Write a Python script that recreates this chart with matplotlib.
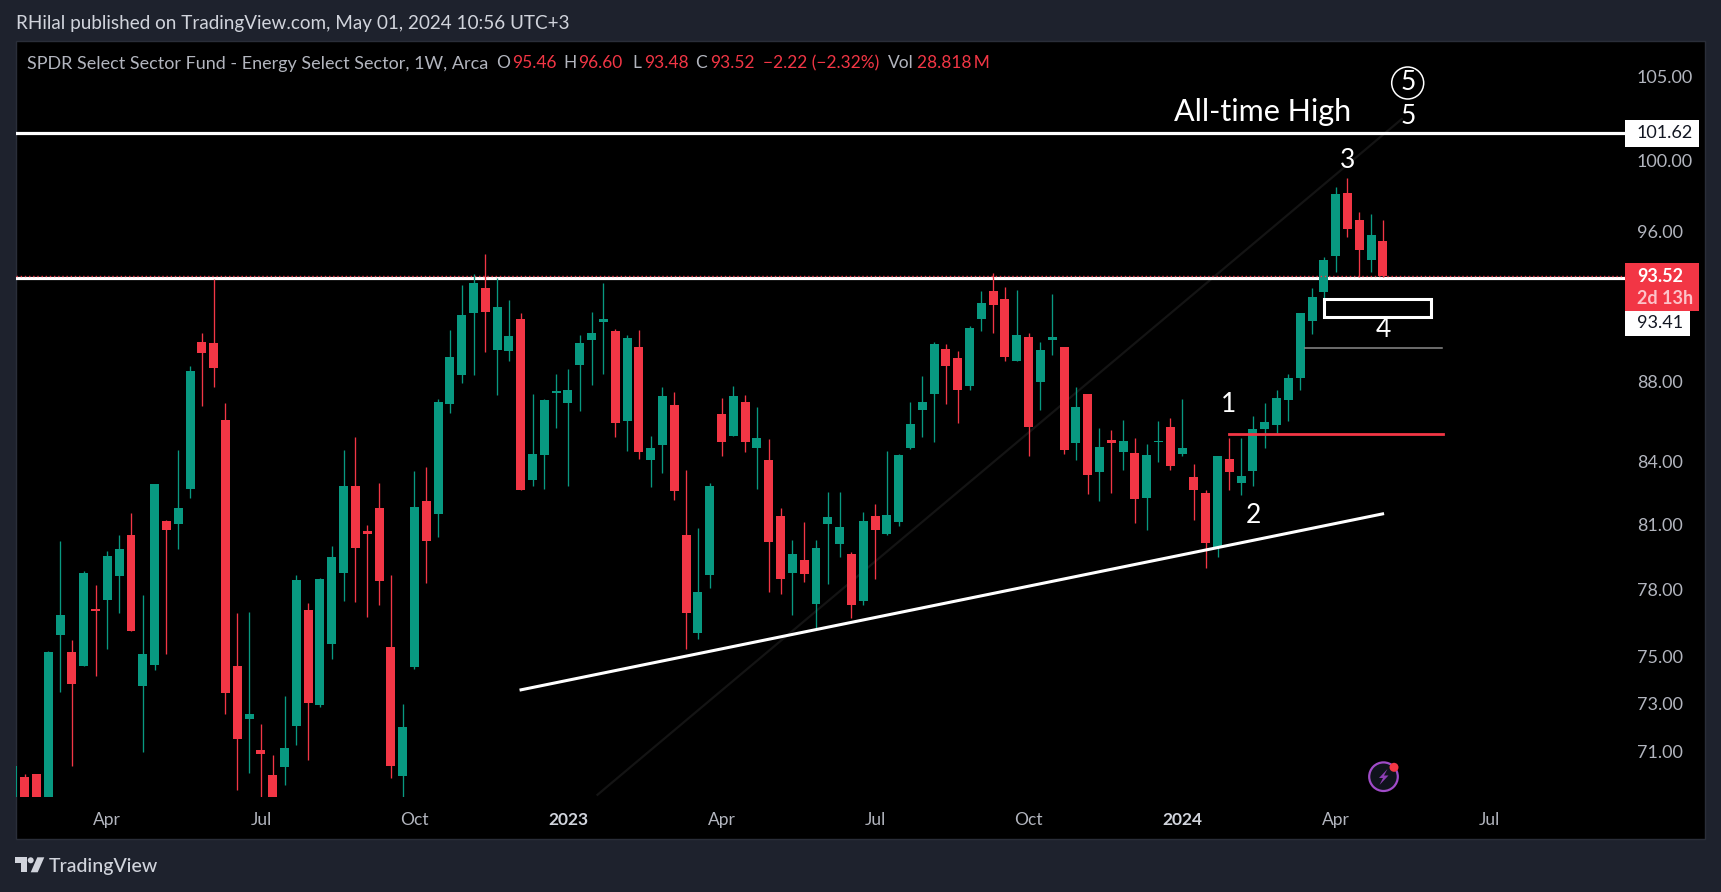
import numpy as np
import matplotlib
matplotlib.use("Agg")
import matplotlib.pyplot as plt
from matplotlib.patches import Rectangle, Polygon, Ellipse
from matplotlib.ticker import NullFormatter, NullLocator

W, H = 1721, 892

# weekly candles, first one is only half visible at the left edge
opens = [69.0, 69.96, 70.08, 69.0, 75.96, 75.22, 74.61, 77.13, 77.53, 78.62,
         80.49, 73.75, 74.66, 81.16, 81.02, 82.68, 90.03, 89.99, 86.04, 74.61,
         72.36, 71.06, 70.05, 70.37, 72.06, 77.08, 72.95, 75.57, 78.75, 82.82,
         80.69, 81.77, 75.44, 70.00, 74.58, 82.10, 81.49, 86.86, 88.33, 91.56,
         92.89, 89.62, 89.56, 91.23, 83.11, 84.32,
         87.41, 86.90, 88.84, 90.13, 91.08, 90.61, 86.01, 89.77, 84.08, 84.82,
         86.80, 80.50, 76.05, 78.65, 86.35, 85.26, 86.96, 84.67, 84.08, 81.39,
         78.75, 79.34, 77.34, 81.01, 80.08, 79.62, 77.45, 81.39, 80.54, 81.11,
         84.67, 86.55, 87.37, 89.66, 89.20, 87.77, 91.24, 92.73, 92.30, 89.05,
         90.29, 87.97, 90.13, 89.77, 84.91, 87.36, 83.50, 85.06, 84.47, 84.42,
         82.25, 84.96, 85.70, 84.37, 83.26, 82.49, 79.94, 84.13, 82.97, 83.55,
         85.60, 85.80, 87.06, 88.17, 91.13, 92.68, 94.63, 98.15, 96.63, 94.41,
         95.46]
highs = [70.41, 70.07, 70.08, 75.28, 80.22, 75.75, 78.84, 78.20, 79.76, 80.49,
         81.54, 77.75, 82.91, 81.21, 84.56, 88.78, 90.51, 93.38, 86.90, 76.95,
         76.98, 72.16, 70.86, 73.33, 78.65, 77.40, 78.53, 79.99, 84.56, 85.20,
         80.98, 82.97, 78.65, 73.00, 83.54, 83.73, 87.10, 90.67, 93.04, 93.64,
         94.74, 93.42, 92.25, 91.56, 87.36, 87.10,
         88.38, 88.62, 90.39, 91.61, 93.16, 90.71, 90.39, 90.66, 85.26, 87.72,
         87.46, 83.59, 80.82, 82.97, 87.16, 87.77, 87.31, 86.70, 85.11, 81.77,
         80.26, 81.11, 80.26, 82.53, 82.53, 79.71, 81.58, 81.96, 84.52, 84.37,
         86.96, 88.27, 90.03, 89.92, 89.56, 90.87, 92.73, 93.70, 92.95, 92.79,
         90.50, 90.03, 92.57, 89.77, 87.72, 87.36, 85.66, 85.56, 86.06, 85.16,
         84.86, 85.99, 86.14, 87.11, 83.88, 82.63, 84.27, 85.15, 85.15, 86.24,
         86.89, 87.56, 88.38, 91.56, 92.89, 94.58, 98.49, 99.01, 97.07, 96.96,
         96.60]
lows = [69.0, 68.9, 68.9, 68.9, 73.50, 70.41, 74.61, 74.18, 75.34, 76.95,
        76.14, 70.99, 74.45, 75.14, 79.86, 82.25, 86.75, 87.72, 72.58, 69.44,
        70.12, 69.15, 68.9, 69.65, 71.28, 70.65, 72.86, 74.91, 77.48, 77.43,
        76.77, 77.30, 69.93, 69.15, 74.48, 78.30, 80.41, 86.39, 87.91, 88.33,
        89.50, 87.31, 89.05, 82.63, 82.82, 82.68,
        85.66, 82.82, 86.50, 87.82, 88.38, 85.21, 84.52, 84.13, 82.77, 83.45,
        82.15, 75.35, 75.78, 78.07, 84.28, 85.26, 84.47, 82.68, 77.88, 77.79,
        76.85, 78.34, 76.23, 78.25, 79.48, 76.72, 77.30, 78.47, 80.50, 80.92,
        84.62, 85.21, 84.96, 86.85, 85.91, 87.56, 90.61, 90.50, 89.05, 89.05,
        84.28, 86.55, 89.36, 84.37, 84.08, 82.44, 82.11, 82.49, 83.59, 81.06,
        80.73, 83.95, 83.59, 84.27, 81.20, 78.99, 79.49, 82.63, 82.39, 82.82,
        84.66, 85.39, 85.99, 87.56, 90.45, 92.21, 93.76, 95.68, 93.50, 93.76,
        93.48]
closes = [70.41, 69.1, 69.1, 75.22, 76.85, 73.84, 78.75, 77.03, 79.54, 79.86,
          76.14, 75.14, 82.91, 80.74, 81.77, 88.53, 89.47, 88.69, 73.45, 71.53,
          72.58, 70.89, 69.1, 71.16, 78.43, 73.03, 78.48, 79.49, 82.82, 79.89,
          80.55, 78.38, 70.41, 72.02, 81.82, 80.22, 86.95, 89.26, 91.44, 93.16,
          91.60, 91.88, 90.34, 82.63, 84.36, 87.05,
          87.48, 87.56, 89.98, 90.50, 91.24, 85.91, 90.24, 84.47, 84.67, 87.26,
          82.58, 76.94, 77.88, 82.82, 84.96, 87.26, 84.96, 85.16, 80.17, 78.47,
          79.62, 78.70, 79.89, 81.34, 80.87, 77.30, 81.16, 80.73, 81.44, 84.33,
          85.86, 86.96, 89.92, 88.79, 87.56, 90.76, 92.09, 91.98, 89.25, 90.39,
          85.71, 89.61, 90.29, 84.57, 86.70, 83.35, 84.72, 84.91, 85.01, 82.20,
          84.33, 85.02, 83.79, 84.66, 82.63, 80.13, 84.27, 83.50, 83.30, 85.60,
          85.95, 87.16, 88.17, 91.56, 92.41, 94.41, 98.09, 96.13, 94.96, 95.79,
          93.52]
weeks = np.arange(-1, len(opens) - 1)

tick_weeks = [7, 20, 33, 46, 59, 72, 85, 98, 111, 124]
tick_names = ["Apr", "Jul", "Oct", "2023", "Apr", "Jul", "Oct", "2024", "Apr", "Jul"]
price_ticks = [71, 73, 75, 78, 81, 84, 88, 96, 100, 105]

all_time_high = 101.62
resistance = 93.41
last_close = 93.52
trend_weeks = [41.9, 115.1]
trend_prices = [73.57, 81.5]
faint_weeks = [48.5, 116.6]
faint_prices = [69.24, 102.45]

GREEN = "#089981"
RED = "#f23645"
BG = "#1e222d"
GREY = "#b2b5be"
DARK = "#131722"
FONT = "Lato"

plt.rcParams["font.family"] = [FONT, "DejaVu Sans"]


def px_text(x, y, s, color="white", size=12, ha="left", **kw):
    return fig.text(x / W, 1 - y / H, s, color=color, fontsize=size, ha=ha,
                    va="center", **kw)


def px_rect(x0, y0, x1, y1, **kw):
    r = Rectangle((x0 / W, 1 - y1 / H), (x1 - x0) / W, (y1 - y0) / H,
                  transform=fig.transFigure, **kw)
    fig.add_artist(r)
    return r


def px_poly(points, **kw):
    pts = [(x / W, 1 - y / H) for x, y in points]
    p = Polygon(pts, closed=True, transform=fig.transFigure, **kw)
    fig.add_artist(p)
    return p


def px_circle(x, y, r, **kw):
    e = Ellipse((x / W, 1 - y / H), 2 * r / W, 2 * r / H,
                transform=fig.transFigure, **kw)
    fig.add_artist(e)
    return e


fig = plt.figure(figsize=(W / 100, H / 100), dpi=100, facecolor=BG)
px_rect(15.5, 40.5, 1705, 838.5, facecolor="black", edgecolor="#2a2e39",
        linewidth=1, zorder=-1)

ax = fig.add_axes([15.5 / W, 1 - 797 / H, (1625 - 15.5) / W, (797 - 41) / H])
ax.patch.set_alpha(0)
ax.set_yscale("log")
ax.set_xlim(-0.78, 135.5)
ax.set_ylim(69.15, 107.19)
for s in ax.spines.values():
    s.set_visible(False)

ax.plot(faint_weeks, faint_prices, color="#141414", lw=1.6, zorder=1)
ax.axhline(all_time_high, color="white", lw=2.3, zorder=2)
ax.axhline(resistance, color="white", lw=2.3, zorder=2)

o = np.array(opens)
c = np.array(closes)
colors = [GREEN if b >= a else RED for a, b in zip(o, c)]
ax.vlines(weeks, lows, highs, colors=colors, lw=0.95, zorder=3)
ax.bar(weeks, np.abs(c - o), bottom=np.minimum(o, c), width=0.76, color=colors,
       linewidth=0, zorder=4)

ax.axhline(last_close, color=RED, lw=1, linestyle=(0, (1, 2)), zorder=5)
ax.plot(trend_weeks, trend_prices, color="white", lw=2.2, zorder=6,
        solid_capstyle="butt")
ax.plot([102, 120.1], [85.35, 85.35], color=RED, lw=2, zorder=6)
ax.plot([108.4, 120.0], [89.73, 89.73], color="#8a8a8a", lw=1.1, zorder=6)
ax.add_patch(Rectangle((110.0, 91.33), 9.1, 0.95, facecolor="none",
                       edgecolor="white", lw=2.2, zorder=6))

ax.yaxis.tick_right()
ax.set_yticks(price_ticks)
ax.set_yticklabels([f"{p:.2f}" for p in price_ticks], color=GREY, fontsize=13)
ax.yaxis.set_minor_locator(NullLocator())
ax.yaxis.set_minor_formatter(NullFormatter())
ax.set_xticks(tick_weeks)
ax.set_xticklabels(tick_names, color=GREY, fontsize=12.5)
for lab, name in zip(ax.get_xticklabels(), tick_names):
    if name.startswith("20"):
        lab.set_fontweight("bold")
        lab.set_color("#d1d4dc")
ax.tick_params(axis="y", length=0, pad=8.5)
ax.tick_params(axis="x", length=0, pad=11)

# drawn labels on the chart
px_text(1263, 112.5, "All-time High", size=22, ha="center")
px_text(1407.7, 116.5, "5", size=19, ha="center")
px_text(1407.7, 83, "5", size=19, ha="center")
px_circle(1407.7, 83, 16, facecolor="none", edgecolor="white", linewidth=1.1,
          zorder=5)
px_text(1347.5, 160, "3", size=19, ha="center")
px_text(1383.6, 329.3, "4", size=19, ha="center")
px_text(1228.7, 404, "1", size=19, ha="center")
px_text(1253, 515.5, "2", size=19, ha="center")

# price axis labels
px_rect(1625, 120, 1699, 146.5, facecolor="white", linewidth=0, zorder=5)
px_text(1637, 133.3, "101.62", color=DARK, size=13, zorder=6)
px_rect(1625, 263, 1699, 311, facecolor=RED, linewidth=0, zorder=5)
px_text(1637, 277, "93.52", color="white", size=13, fontweight="bold", zorder=6)
px_text(1637, 298, "2d 13h", color="#fcc3c9", size=13, fontweight="bold", zorder=6)
px_rect(1625, 311, 1690, 336, facecolor="white", linewidth=0, zorder=5)
px_text(1637, 323.5, "93.41", color=DARK, size=13, zorder=6)

# header and legend row
px_text(15.5, 23, "RHilal published on TradingView.com, May 01, 2024 10:56 UTC+3",
        color="#d1d4dc", size=13.6)
px_text(27, 63.5, "SPDR Select Sector Fund - Energy Select Sector, 1W, Arca",
        color=GREY, size=12.95)
legend_parts = [(496.5, "O", GREY), (512.5, "95.46", RED), (563, "H", GREY),
                (578, "96.60", RED), (632, "L", GREY), (644, "93.48", RED),
                (695, "C", GREY), (710, "93.52", RED),
                (763, "\u22122.22 (\u22122.32%)", RED), (888, "Vol", GREY),
                (917, "28.818\u2009M", RED)]
for x, s, col in legend_parts:
    px_text(x, 63.5, s, color=col, size=12.5)

# TradingView logo
LOGO = "#d1d4dc"
px_poly([(15.3, 857.3), (26.7, 857.3), (26.7, 872.3), (20.7, 872.3), (20.7, 863.3),
         (15.3, 863.3)], facecolor=LOGO, linewidth=0)
px_circle(30.7, 860.3, 3, facecolor=LOGO, linewidth=0)
px_poly([(37.3, 857.3), (44.3, 857.3), (37.7, 872.3), (30.7, 872.3)], facecolor=LOGO,
        linewidth=0)
px_text(49, 866.5, "TradingView", color=LOGO, size=14, fontweight="medium")

# lightning icon
px_circle(1383.5, 776.7, 14.3, facecolor="#10131c", edgecolor="#a04bc8", linewidth=1.6,
          zorder=5)
px_poly([(1387.5, 769), (1379, 778), (1383, 778), (1379.5, 785), (1388.5, 775.5),
         (1384, 775.5)], facecolor="#8d3fb3", linewidth=0, zorder=6)
px_circle(1394, 767.3, 4.5, facecolor=RED, linewidth=0, zorder=6)

fig.savefig("out.png", dpi=100, facecolor=BG)
